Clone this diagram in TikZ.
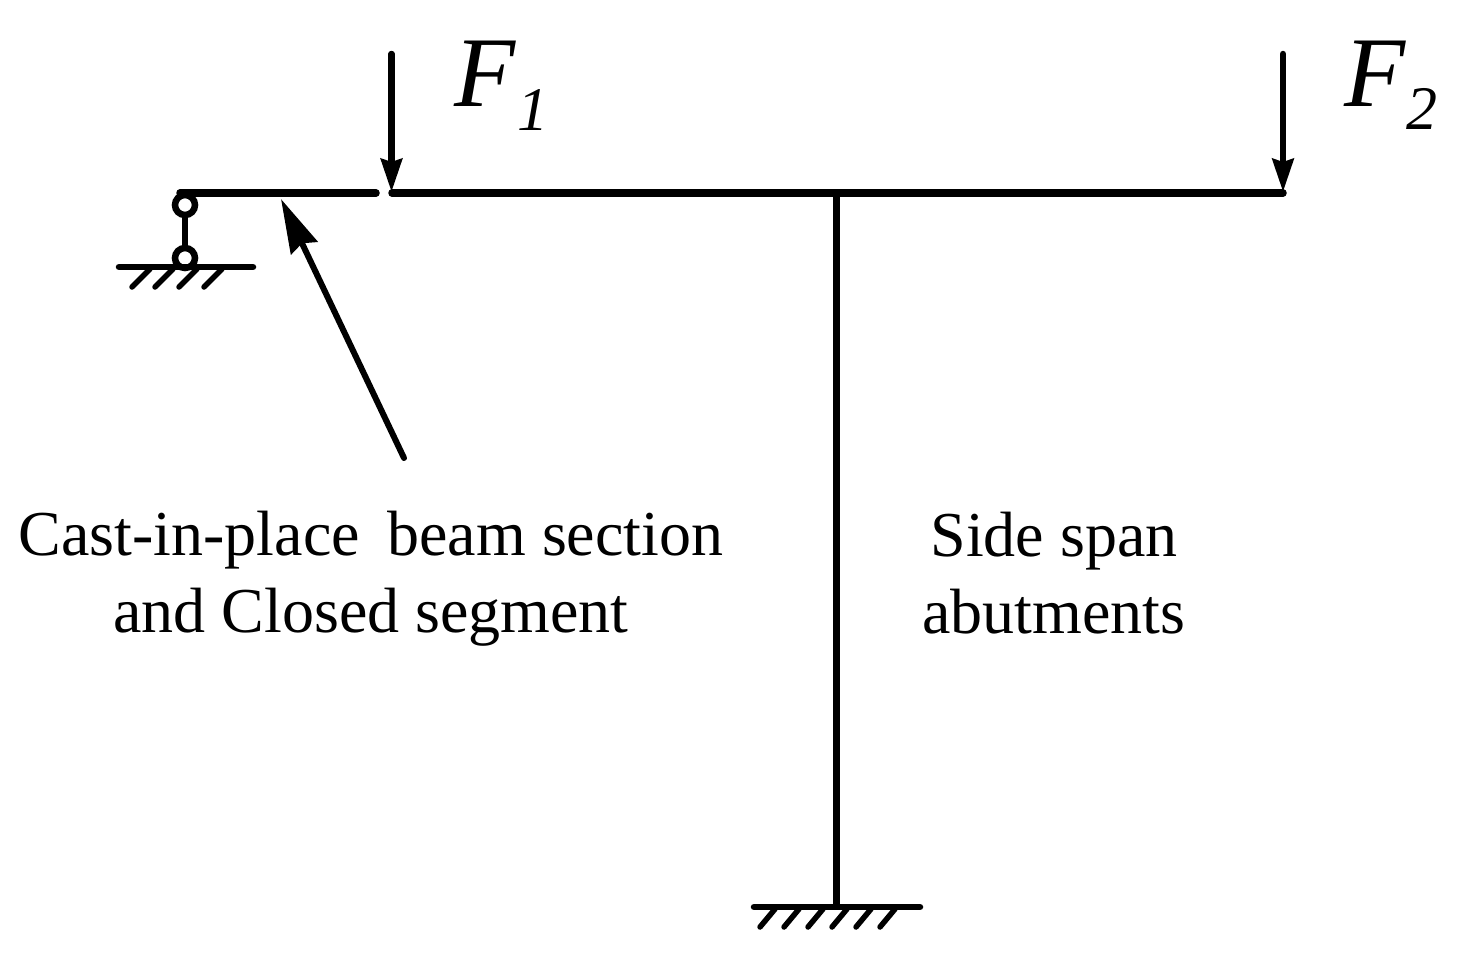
\documentclass[tikz,border=0pt]{standalone}
\usepackage{fontspec}
\setmainfont{Liberation Serif}
\usetikzlibrary{arrows.meta}
\tikzset{
  x=1pt,y=-1pt,
  beam/.style={line width=7.5pt,line cap=round},
  column/.style={line width=7pt,line cap=butt},
  groundline/.style={line width=6.5pt,line cap=round},
  hatchline/.style={line width=5.5pt,line cap=round},
  force/.style={line width=6.5pt,line cap=round,-{Stealth[length=33pt,width=21pt,inset=3pt]}},
  leader/.style={line width=6pt,line cap=round,-{Stealth[length=54pt,width=29pt,inset=5pt]}},
  hinge/.style={circle,draw=black,line width=6.5pt,fill=white,minimum size=20pt,inner sep=0pt},
  lab/.style={font=\fontsize{64}{77}\selectfont,align=center,inner sep=0pt},
  sym/.style={font=\fontsize{100}{100}\selectfont\itshape,inner sep=0pt,anchor=base west},
  sub/.style={font=\fontsize{62}{62}\selectfont\itshape,inner sep=0pt,anchor=base west}
}
\begin{document}
\begin{tikzpicture}
\useasboundingbox (0,0) rectangle (1463,964);
% named points
\coordinate (bl) at (180,193);
\coordinate (br) at (376,193);
\coordinate (cl) at (392,193);
\coordinate (joint) at (836,193);
\coordinate (cr) at (1283,193);
\coordinate (base) at (836,907);
\coordinate (f1top) at (391.5,54);
\coordinate (f1tip) at (391.5,192);
\coordinate (f2top) at (1283,54);
\coordinate (f2tip) at (1283,192);
\coordinate (ltail) at (404,458);
\coordinate (ltip) at (281,199);
\coordinate (g1l) at (119,267);
\coordinate (g1r) at (253,267);
\coordinate (g2l) at (754,907);
\coordinate (g2r) at (920,907);
% beam and column
\draw[beam] (bl) -- (br);
\draw[beam] (cl) -- (cr);
\draw[column] (joint) -- (base);
% link support
\node[hinge] (h1) at (185,205) {};
\node[hinge] (h2) at (185,258) {};
\draw[line width=5.5pt] (h1) -- (h2);
% ground left
\draw[groundline] (g1l) -- (g1r);
\foreach \x in {150,173,197,222}
  \draw[hatchline] (\x,269) -- (\x-18,287);
% ground bottom
\draw[groundline] (g2l) -- (g2r);
\foreach \x in {775,799,823,847,871,895}
  \draw[hatchline] (\x,909) -- (\x-15,927);
% arrows
\draw[force] (f1top) -- (f1tip);
\draw[force] (f2top) -- (f2tip);
\draw[leader] (ltail) -- (ltip);
% labels
\node[lab] (t1) at (371,579) {Cast-in-place\hspace{0.18em} beam section\\and Closed segment};
\node[lab] (t2) at (1054,573) {Side span\\abutments};
\node[sym] (F1) at (454,106) {F};
\node[sub] (s1) at (517,130) {1};
\node[sym] (F2) at (1344,106) {F};
\node[sub] (s2) at (1406,129) {2};
\end{tikzpicture}
\end{document}
